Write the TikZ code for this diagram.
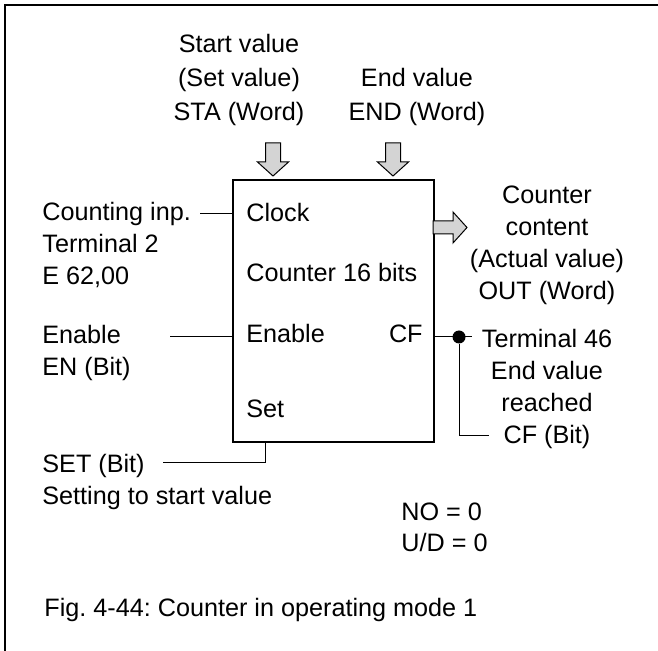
\documentclass[tikz,border=0pt]{standalone}
\usepackage{fontspec}
\setmainfont{Liberation Sans}
\frenchspacing
\begin{document}
\begin{tikzpicture}[x=0.5pt,y=-0.5pt,
  txt/.style={font=\fontsize{12.6}{16}\selectfont, inner sep=0pt},
  lbl/.style={txt, anchor=base west, align=left},
  rlbl/.style={txt, anchor=base east},
  clbl/.style={txt, align=center, anchor=base},
  wire/.style={line width=0.5pt},
  bigarrow/.style={fill=black!17, draw=black, line width=0.5pt, line join=miter}]
\useasboundingbox (0,0) rectangle (658,651);
% frame
\draw[line width=1.1pt] (5,651) -- (5,5) -- (658,5);
% counter box
\node[draw, line width=0.9pt, minimum width=100.5pt, minimum height=131pt, inner sep=0pt, anchor=north west] (ctr) at (232,179) {};
\node[lbl] (clk) at (246,222) {Clock};
\node[lbl] (c16) at (246,282) {Counter 16 bits};
\node[lbl] (ena) at (246,343) {Enable};
\node[lbl] (set) at (246,418) {Set};
\node[rlbl] (cf) at (423,343) {CF};
% top inputs
\node[clbl, font=\fontsize{12.6}{17}\selectfont] (sta) at (239,121) {Start value\\(Set value)\\STA (Word)};
\node[clbl, font=\fontsize{12.6}{17}\selectfont] (endv) at (417,121) {End value\\END (Word)};
\coordinate (a1) at (273,176);
\coordinate (a2) at (393,176);
\draw[bigarrow] (a1) -- ++(-15.5,-14) -- ++(8,0) -- ++(0,-19) -- ++(15,0) -- ++(0,19) -- ++(8,0) -- cycle;
\draw[bigarrow] (a2) -- ++(-15.5,-14) -- ++(8,0) -- ++(0,-19) -- ++(15,0) -- ++(0,19) -- ++(8,0) -- cycle;
% output
\node[clbl] (out) at (547,300) {Counter\\content\\(Actual value)\\OUT (Word)};
\coordinate (a3) at (467,227.5);
\coordinate (a3s) at (433,221);
\draw[bigarrow] (a3s) -- ++(20,0) -- ++(0,-9) -- (a3) -- ++(-14,15.5) -- ++(0,-9) -- ++(-20,0) -- cycle;
% left inputs
\node[lbl] (cin) at (42,285) {Counting inp.\\Terminal 2\\E 62,00};
\node[lbl] (enin) at (42,376) {Enable\\EN (Bit)};
\node[lbl] (setin) at (42,504) {SET (Bit)\\Setting to start value};
\coordinate (cinE) at (200,214);
\coordinate (enE) at (170,337);
\coordinate (setL) at (163,463);
\coordinate (setX) at (265,0);
\draw[wire] (cinE) -- (cinE -| ctr.west);
\draw[wire] (enE) -- (enE -| ctr.west);
\draw[wire] (setX |- ctr.south) |- (setL);
% CF output
\node[circle, fill=black, inner sep=0pt, minimum size=6.5pt] (dot) at (459,337) {};
\node[clbl] (t46) at (547,444) {Terminal 46\\End value\\reached\\CF (Bit)};
\coordinate (cfR) at (472,337);
\coordinate (cfB) at (489,436);
\draw[wire] (dot -| ctr.east) -- (cfR);
\draw[wire] (dot) |- (cfB);
% mode
\node[lbl] (mode) at (401,552) {NO = 0\\U/D = 0};
\node[lbl] (cap) at (44,616) {Fig. 4-44: Counter in operating mode 1};
\end{tikzpicture}
\end{document}
